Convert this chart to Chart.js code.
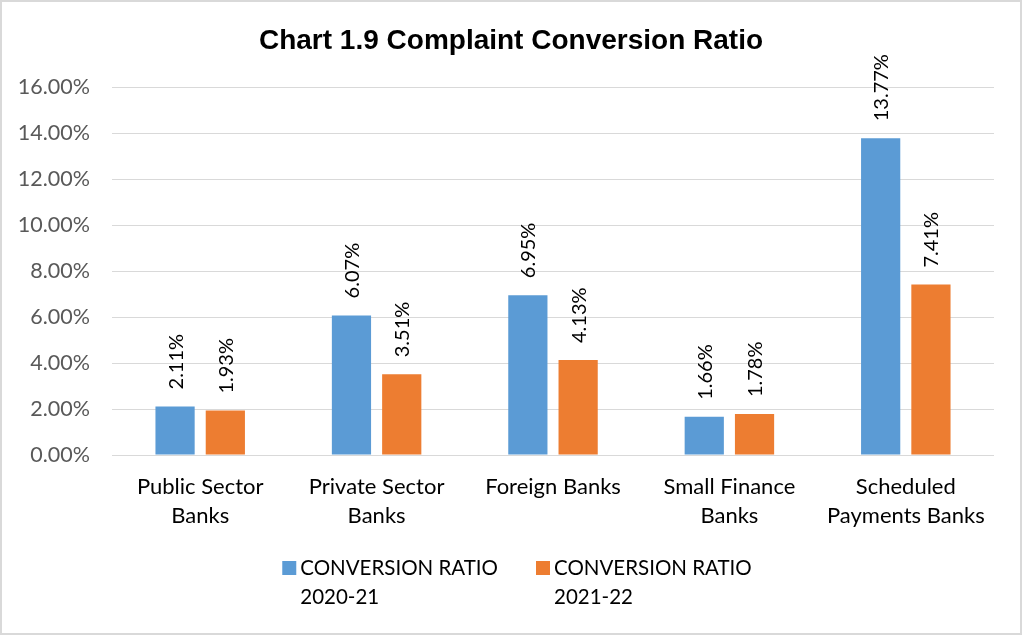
<!DOCTYPE html>
<html>
<head>
<meta charset="utf-8">
<script src="https://cdn.jsdelivr.net/npm/chart.js@4.4.0/dist/chart.umd.min.js"></script>
<style>
    html, body { margin: 0; padding: 0; background: #fff; }
    #wrap { width: 1022px; height: 635px; position: relative; }
</style>
</head>
<body>
<div id="wrap"><canvas id="chart"></canvas></div>
<script>
const TITLE = 'Chart 1.9 Complaint Conversion Ratio';
const CATEGORIES = [
    ['Public Sector', 'Banks'],
    ['Private Sector', 'Banks'],
    ['Foreign Banks'],
    ['Small Finance', 'Banks'],
    ['Scheduled', 'Payments Banks']
];
const SERIES_LABELS = [
    ['CONVERSION RATIO', '2020-21'],
    ['CONVERSION RATIO', '2021-22']
];
const RATIO_2020_21 = [2.11, 6.07, 6.95, 1.66, 13.77];
const RATIO_2021_22 = [1.93, 3.51, 4.13, 1.78, 7.41];

const BLUE = '#5b9bd5';
const ORANGE = '#ed7d31';
const FONT = 'Lato, "Open Sans", sans-serif';

const pct = (v) => Number(v).toFixed(2) + '%';

// frame + title
const framePlugin = {
    id: 'frame',
    beforeDraw: (chart) => {
        const ctx = chart.ctx;
        ctx.save();
        ctx.fillStyle = '#fff';
        ctx.fillRect(0, 0, chart.width, chart.height);
        ctx.restore();
    },
    afterDraw: (chart) => {
        const ctx = chart.ctx;
        ctx.save();
        ctx.strokeStyle = '#d9d9d9';
        ctx.lineWidth = 2;
        ctx.strokeRect(1, 1, chart.width - 2, chart.height - 2);
        ctx.fillStyle = '#000';
        ctx.font = 'bold 28px "Liberation Sans", Arial, sans-serif';
        ctx.textAlign = 'center';
        ctx.textBaseline = 'middle';
        ctx.fillText(TITLE, chart.width / 2, 41);
        ctx.restore();
    }
};

// rotated value labels above the bars
const valueLabels = {
    id: 'valueLabels',
    afterDatasetsDraw: (chart) => {
        const ctx = chart.ctx;
        ctx.save();
        ctx.font = '20px ' + FONT;
        ctx.fillStyle = '#000';
        ctx.textAlign = 'left';
        ctx.textBaseline = 'middle';
        chart.data.datasets.forEach((ds, di) => {
            chart.getDatasetMeta(di).data.forEach((bar, i) => {
                ctx.save();
                ctx.translate(bar.x, bar.y - 17);
                ctx.rotate(-Math.PI / 2);
                ctx.fillText(pct(ds.data[i]), 0, 1);
                ctx.restore();
            });
        });
        ctx.restore();
    }
};

// two-line legend at the bottom
const bottomLegend = {
    id: 'bottomLegend',
    afterDraw: (chart) => {
        const ctx = chart.ctx;
        ctx.save();
        ctx.font = '20.5px ' + FONT;
        ctx.textBaseline = 'middle';
        ctx.textAlign = 'left';
        const box = 14, gap = 4, itemGap = 38;
        const items = chart.data.datasets.map((ds) => {
            const w = Math.max(...ds.label.map((t) => ctx.measureText(t).width));
            return { ds, w: box + gap + w };
        });
        const total = items.reduce((s, it) => s + it.w, 0) + itemGap * (items.length - 1);
        let x = (chart.width - total) / 2 + 6;
        const y1 = 568, y2 = 597;
        items.forEach((it) => {
            ctx.fillStyle = it.ds.backgroundColor;
            ctx.fillRect(x, y1 - box / 2, box, box);
            ctx.fillStyle = '#000';
            ctx.fillText(it.ds.label[0], x + box + gap, y1);
            ctx.fillText(it.ds.label[1], x + box + gap, y2);
            x += it.w + itemGap;
        });
        ctx.restore();
    }
};

new Chart(document.getElementById('chart'), {
    type: 'bar',
    data: {
        labels: CATEGORIES,
        datasets: [
            { label: SERIES_LABELS[0], data: RATIO_2020_21, backgroundColor: BLUE },
            { label: SERIES_LABELS[1], data: RATIO_2021_22, backgroundColor: ORANGE }
        ]
    },
    options: {
        responsive: true,
        maintainAspectRatio: false,
        animation: false,
        layout: { padding: { left: 12, right: 28, top: 87, bottom: 100 } },
        plugins: {
            legend: { display: false },
            title: { display: false },
            tooltip: { enabled: false }
        },
        datasets: {
            bar: { categoryPercentage: 0.57, barPercentage: 0.78 }
        },
        scales: {
            x: {
                grid: { display: false, drawTicks: false },
                border: { display: false },
                ticks: {
                    color: '#000',
                    padding: 17,
                    font: { family: FONT, size: 22, lineHeight: 1.32 },
                    maxRotation: 0,
                    autoSkip: false
                },
                afterFit: (scale) => { scale.height = 80; }
            },
            y: {
                min: 0,
                max: 16,
                grid: { color: '#d9d9d9', lineWidth: 1, drawTicks: false },
                border: { display: false },
                ticks: {
                    stepSize: 2,
                    color: '#595959',
                    padding: 22,
                    font: { family: FONT, size: 21.5 },
                    callback: (v) => pct(v)
                },
                afterFit: (scale) => { scale.width = 100; }
            }
        }
    },
    plugins: [framePlugin, valueLabels, bottomLegend]
});
</script>
</body>
</html>
